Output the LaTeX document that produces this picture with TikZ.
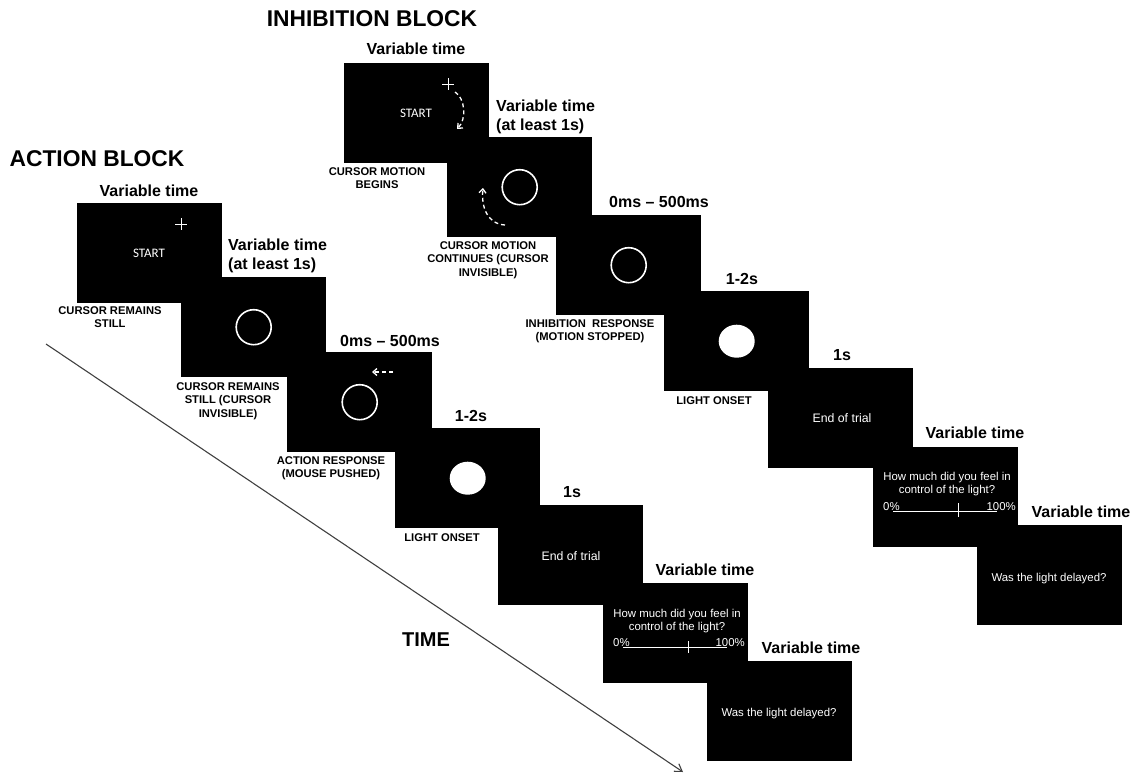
\documentclass[tikz,border=0pt]{standalone}
\usepackage{fontspec}
\setmainfont{Liberation Sans}
\newfontfamily\carl{Carlito}
\usetikzlibrary{arrows.meta,shapes.geometric}
\tikzset{
 screen/.style={fill=black, draw=none, minimum width=145pt, minimum height=100pt, inner sep=0pt, anchor=north west},
 ring/.style={circle, draw=white, line width=1.6pt, minimum width=35pt, minimum height=35pt, inner sep=0pt},
 lamp/.style={ellipse, fill=white, minimum width=36pt, minimum height=33pt, inner sep=0pt},
 head/.style={font=\fontsize{22.8}{26}\selectfont\bfseries, inner sep=0pt, anchor=base},
 dur/.style={font=\fontsize{16}{19}\selectfont\bfseries, inner sep=0pt, anchor=base, align=left},
 evlbl/.style={font=\fontsize{11.2}{13.5}\selectfont\bfseries, align=center, inner sep=0pt, anchor=base},
 scr/.style={text=white, font=\fontsize{11.4}{13}\selectfont, inner sep=0pt, anchor=base, align=center},
 endlbl/.style={text=white, font=\fontsize{12.3}{14}\selectfont, inner sep=0pt, anchor=base},
 startlbl/.style={text=white, font=\carl\fontsize{13}{15}\selectfont, inner sep=0pt, anchor=base},
 wline/.style={draw=white, line width=1pt},
 dasharc/.style={draw=white, line width=1.3pt, dash pattern=on 4pt off 3pt, -{Straight Barb[length=4pt,width=7pt]}},
 timearrow/.style={draw=black!75, line width=1.1pt, -{Straight Barb[length=7pt,width=9pt]}},
}
\begin{document}
\begin{tikzpicture}[x=1pt,y=-1pt]
\useasboundingbox (0,0) rectangle (1134,776);
% ---------- screens ----------
\node[screen] (a1) at (77,203) {};
\node[screen] (a2) at (181,277) {};
\node[screen] (a3) at (287,352) {};
\node[screen] (a4) at (395,428) {};
\node[screen] (a5) at (498,505) {};
\node[screen] (a6) at (603,583) {};
\node[screen] (a7) at (707,661) {};
\node[screen] (i1) at (344,63) {};
\node[screen] (i2) at (447,137) {};
\node[screen] (i3) at (556,215) {};
\node[screen] (i4) at (664,291) {};
\node[screen] (i5) at (768,368) {};
\node[screen] (i6) at (873,447) {};
\node[screen] (i7) at (977,525) {};
% ---------- ACTION BLOCK ----------
\node[head] (ah) at (97,166) {ACTION BLOCK};
\node[dur] (ad1) at (149,196) {Variable time};
\node[dur, anchor=base west] (ad2) at (228,269) {Variable time\\(at least 1s)};
\node[dur] (ad3) at (390,346) {0ms -- 500ms};
\node[dur] (ad4) at (471,421) {1-2s};
\node[dur] (ad5) at (572,497) {1s};
\node[dur] (ad6) at (705,575) {Variable time};
\node[dur] (ad7) at (811,653) {Variable time};
\node[evlbl] (ae1) at (110,327.5) {CURSOR REMAINS\\STILL};
\node[evlbl] (ae2) at (228,417) {CURSOR REMAINS\\STILL (CURSOR\\INVISIBLE)};
\node[evlbl] (ae3) at (331,477.5) {ACTION RESPONSE\\(MOUSE PUSHED)};
\node[evlbl] (ae4) at (442,541) {LIGHT ONSET};
\node[startlbl] (as) at (149,257) {START};
\coordinate (ap1) at (175,224); \coordinate (ap2) at (187,224);
\coordinate (ap3) at (181,218); \coordinate (ap4) at (181,230);
\draw[wline] (ap1) -- (ap2); \draw[wline] (ap3) -- (ap4);
\node[ring] (ac2) at (a2.center) {};
\node[ring] (ac3) at (a3.center) {};
\coordinate (aa1) at (393,372); \coordinate (aa2) at (372,372);
\draw[dasharc] (aa1) -- (aa2);
\node[lamp] (al4) at (a4.center) {};
\node[endlbl] (at5) at (571,560) {End of trial};
\node[scr] (aq6) at (677,630) {How much did you feel in\\control of the light?};
\node[scr, anchor=base west] (az6) at (613,646) {0\%};
\node[scr, anchor=base east] (ah6) at (745,646) {100\%};
\coordinate (as1) at (623,647); \coordinate (as2) at (727,647);
\draw[wline] (as1) -- (as2);
\coordinate (ak1) at (688,641); \coordinate (ak2) at (688,653);
\draw[wline] (ak1) -- (ak2);
\node[scr] (aw7) at (779,716) {Was the light delayed?};
% time arrow
\node[font=\fontsize{20}{24}\selectfont\bfseries, inner sep=0pt, anchor=base] (time) at (426,646) {TIME};
\coordinate (ts) at (46,344); \coordinate (te) at (683,772);
\draw[timearrow] (ts) -- (te);
% ---------- INHIBITION BLOCK ----------
\node[head] (ih) at (372,27) {INHIBITION BLOCK};
\node[dur] (id1) at (416,55) {Variable time};
\node[dur, anchor=base west] (id2) at (496,130) {Variable time\\(at least 1s)};
\node[dur] (id3) at (659,207) {0ms -- 500ms};
\node[dur] (id4) at (742,284) {1-2s};
\node[dur] (id5) at (842,360) {1s};
\node[dur] (id6) at (975,438) {Variable time};
\node[dur] (id7) at (1081,517) {Variable time};
\node[evlbl] (ie1) at (377,188.5) {CURSOR MOTION\\BEGINS};
\node[evlbl] (ie2) at (488,276) {CURSOR MOTION\\CONTINUES (CURSOR\\INVISIBLE)};
\node[evlbl] (ie3) at (590,340.5) {INHIBITION\ \ RESPONSE\\(MOTION STOPPED)};
\node[evlbl] (ie4) at (714,404) {LIGHT ONSET};
\node[startlbl] (is) at (416,117) {START};
\coordinate (ip1) at (442,84); \coordinate (ip2) at (454,84);
\coordinate (ip3) at (448,78); \coordinate (ip4) at (448,90);
\draw[wline] (ip1) -- (ip2); \draw[wline] (ip3) -- (ip4);
\coordinate (ia1) at (455,92); \coordinate (ia2) at (457,129);
\draw[dasharc] (ia1) .. controls (465,98) and (467,119) .. (ia2);
\node[ring] (ic2) at (i2.center) {};
\coordinate (ib1) at (505,225); \coordinate (ib2) at (483,188);
\draw[dasharc] (ib1) .. controls (488,224) and (481,208) .. (ib2);
\node[ring] (ic3) at (i3.center) {};
\node[lamp] (il4) at (i4.center) {};
\node[endlbl] (it5) at (842,422) {End of trial};
\node[scr] (iq6) at (947,493) {How much did you feel in\\control of the light?};
\node[scr, anchor=base west] (iz6) at (883,510) {0\%};
\node[scr, anchor=base east] (ih6) at (1016,510) {100\%};
\coordinate (is1) at (893,511); \coordinate (is2) at (997,511);
\draw[wline] (is1) -- (is2);
\coordinate (ik1) at (958,503); \coordinate (ik2) at (958,517);
\draw[wline] (ik1) -- (ik2);
\node[scr] (iw7) at (1049,581) {Was the light delayed?};
\end{tikzpicture}
\end{document}
